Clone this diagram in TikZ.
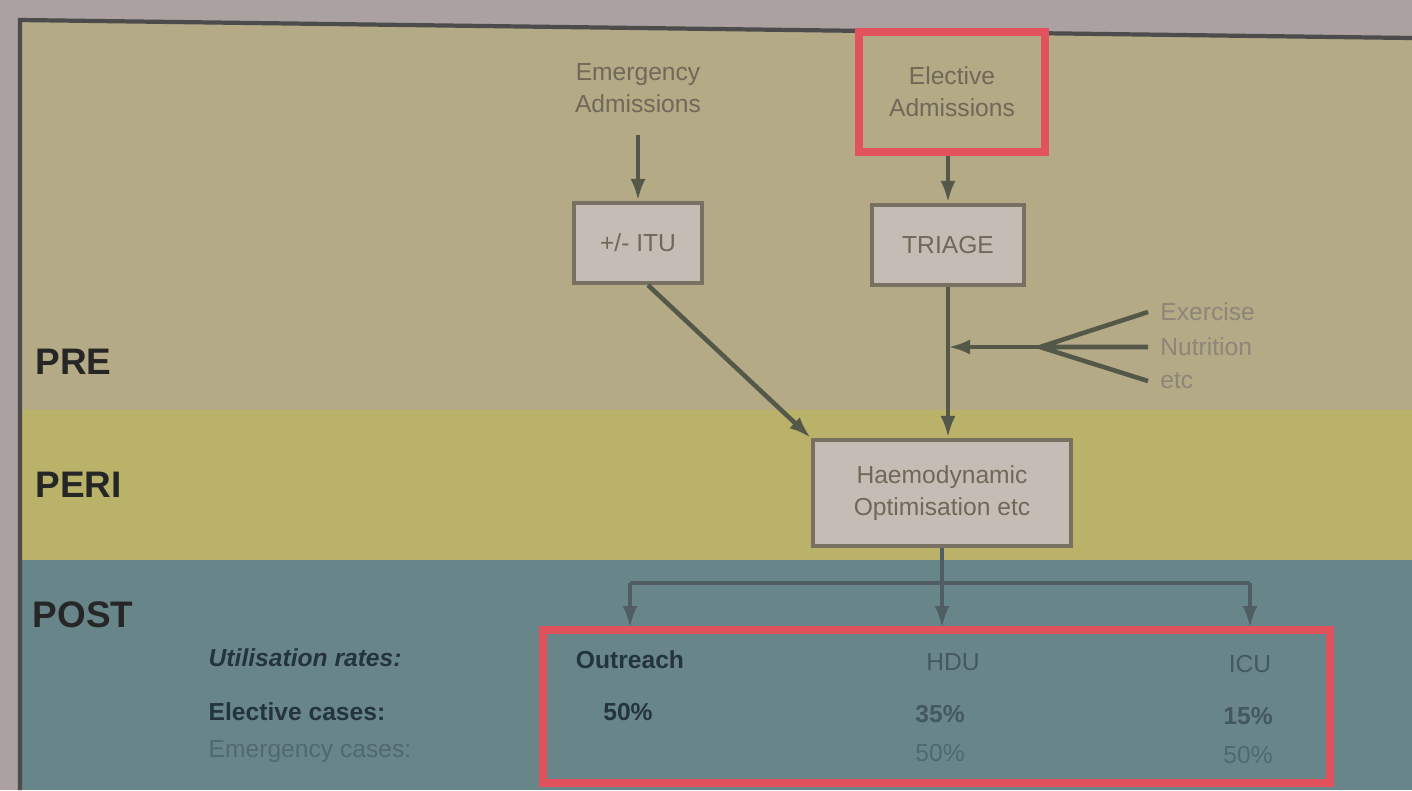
\documentclass[tikz,border=0pt]{standalone}
\usepackage{fontspec}
\setmainfont{Liberation Sans}
\usetikzlibrary{arrows.meta}
\definecolor{outside}{RGB}{170,161,160}
\definecolor{prebg}{RGB}{180,170,134}
\definecolor{peribg}{RGB}{186,178,104}
\definecolor{postbg}{RGB}{104,134,138}
\definecolor{boxfill}{RGB}{198,188,182}
\definecolor{boxline}{RGB}{120,112,96}
\definecolor{flow}{RGB}{84,88,72}
\definecolor{pretext}{RGB}{112,104,88}
\definecolor{hilite}{RGB}{226,82,92}
\definecolor{posttext}{RGB}{36,52,60}
\definecolor{postlight}{RGB}{80,104,112}
\begin{document}
\begin{tikzpicture}[x=0.01cm, y=-0.01cm, >={Latex[length=2.2mm,width=1.5mm]},
	box/.style={draw=boxline, line width=1.2pt, fill=boxfill, text=pretext, align=center, font=\fontsize{7}{9}\selectfont},
	redbox/.style={draw=hilite, line width=2.4pt},
	small/.style={text=pretext, align=center, font=\fontsize{7}{9}\selectfont},
	phase/.style={anchor=west, inner sep=0pt, font=\fontsize{10.5}{12}\selectfont\bfseries, text=black!85},
	flowline/.style={draw=flow, line width=1.3pt},
	rate/.style={font=\fontsize{7}{9}\selectfont\bfseries, text=posttext}]
		%\draw [help lines] (0,0) grid (1412,790);
		\useasboundingbox (0,0) rectangle (1412,790);
		\fill[outside] (0,0) rectangle (1412,790);
		% bands
		\fill[prebg] (20,20) -- (1412,38) -- (1412,410) -- (20,410) -- cycle;
		\fill[peribg] (20,410) rectangle (1412,560);
		\fill[postbg] (20,560) rectangle (1412,790);
		\draw[black!70, line width=1.2pt] (20,790) -- (20,20) -- (1412,38);
		% phase labels
		\node[phase] (pre) at (35,362) {PRE};
		\node[phase] (peri) at (35,485) {PERI};
		\node[phase] (post) at (32,615) {POST};
		% pre-operative
		\node[small] (emerg) at (638,88) {Emergency\\Admissions};
		\node[small, draw=hilite, line width=2.4pt, minimum width=1.86cm, minimum height=1.2cm] (elect) at (952,92) {Elective\\Admissions};
		\node[box, minimum width=1.28cm, minimum height=0.8cm] (itu) at (638,243) {+/- ITU};
		\node[box, minimum width=1.52cm, minimum height=0.8cm] (triage) at (948,245) {TRIAGE};
		\node[box, minimum width=2.58cm, minimum height=1.06cm] (haemo) at (942,493) {Haemodynamic\\Optimisation etc};
		\draw[flowline, ->] (emerg.south) ++(0,10) -- (itu.north);
		\draw[flowline, ->] (elect.south -| triage.north) -- (triage.north);
		\draw[flowline, ->] ([xshift=0.1cm]itu.south) -- (haemo.north west);
		\draw[flowline, ->] (triage.south) -- (triage.south |- haemo.north);
		% extras
		\node[small, anchor=west, text=pretext!80] (exer) at (1148,312) {Exercise};
		\node[small, anchor=west, text=pretext!80] (nutr) at (1148,347) {Nutrition};
		\node[small, anchor=west, text=pretext!80] (etc) at (1148,381) {etc};
		\coordinate (fan) at (1040,347);
		\draw[flowline] (exer.west) -- (fan) (nutr.west) -- (fan) (etc.west) -- (fan);
		\draw[flowline, ->] (fan) -- (triage.south |- fan);
		% post-operative
		\coordinate (split) at (haemo.south |- 0,583);
		\node[rate] (outr) at (630,660) {Outreach};
		\node[rate, font=\fontsize{7}{9}\selectfont, text=postlight!70!posttext] (hdu) at (953,662) {HDU};
		\node[rate, font=\fontsize{7}{9}\selectfont, text=postlight!70!posttext] (icu) at (1250,664) {ICU};
		\draw[flowline, draw=posttext!80] (split -| outr) -- (split -| icu);
		\draw[flowline, draw=posttext!80, ->] (haemo.south) -- (haemo.south |- 0,628);
		\draw[flowline, draw=posttext!80, ->] (split -| outr) -- (outr |- 0,628);
		\draw[flowline, draw=posttext!80, ->] (split -| icu) -- (icu |- 0,628);
		\draw[redbox] (543,630) rectangle (1330,783);
		\node[rate, anchor=west, inner sep=0pt, font=\fontsize{7}{9}\selectfont\bfseries\itshape] (util) at (208,658) {Utilisation rates:};
		\node[rate, anchor=west, inner sep=0pt] (elcases) at (208,712) {Elective cases:};
		\node[rate, anchor=west, inner sep=0pt, font=\fontsize{7}{9}\selectfont, text=postlight] (emcases) at (208,752) {Emergency cases:};
		\node[rate] (outel) at (628,712) {50\%};
		\node[rate, text=postlight!70!posttext] (hduel) at (940,714) {35\%};
		\node[rate, text=postlight!70!posttext] (icuel) at (1248,716) {15\%};
		\node[rate, font=\fontsize{7}{9}\selectfont, text=postlight] (hduem) at (940,753) {50\%};
		\node[rate, font=\fontsize{7}{9}\selectfont, text=postlight] (icuem) at (1248,755) {50\%};
	\end{tikzpicture}
\end{document}
